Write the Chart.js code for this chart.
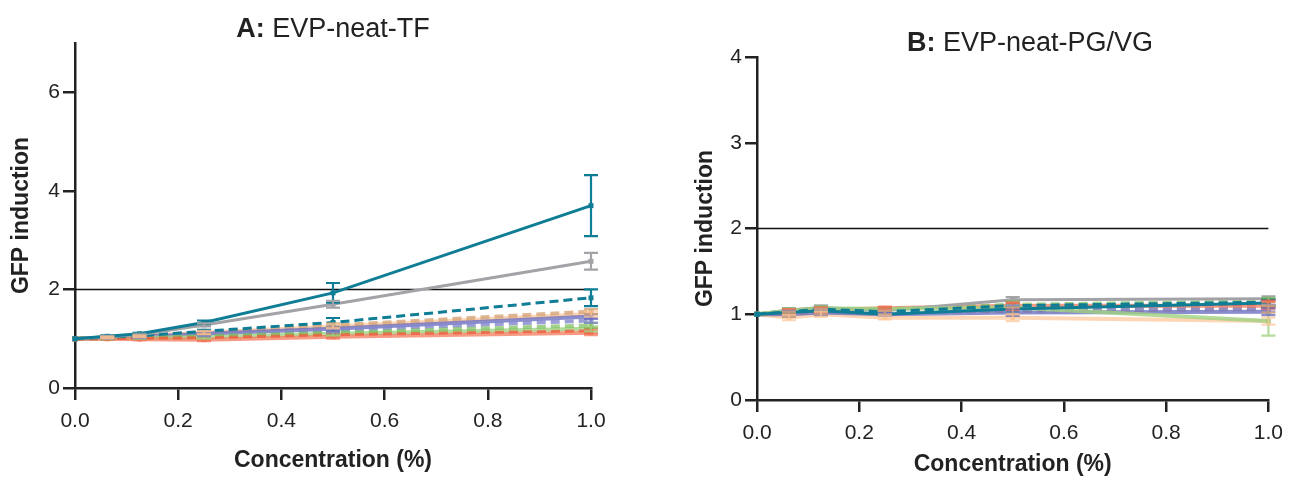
<!doctype html>
<html><head><meta charset="utf-8"><title>GFP induction</title>
<script src="https://cdn.jsdelivr.net/npm/chart.js@4/dist/chart.umd.min.js"></script>
<style>
  html, body { margin: 0; padding: 0; background: #fff; }
  body { width: 1292px; height: 484px; position: relative; overflow: hidden; font-family: 'Liberation Sans', Arial, sans-serif; }
  .wrap { position: absolute; top: 0; height: 484px; }
  .ttl { position: absolute; font-size: 27px; color: #222; white-space: nowrap; transform: translateX(-50%); }
</style>
</head>
<body>
<div class="wrap" style="left:0;width:640px"><canvas id="ca" width="640" height="484"></canvas></div>
<div class="wrap" style="left:650px;width:642px"><canvas id="cb" width="642" height="484"></canvas></div>
<div class="ttl" style="left:333px;top:13px"><b>A:</b> EVP-neat-TF</div>
<div class="ttl" style="left:1030px;top:27px"><b>B:</b> EVP-neat-PG/VG</div>
<script>
// 濃度 (%)
const conc = [0, 0.0625, 0.125, 0.25, 0.5, 1.0]
const xTicks = [0, 0.2, 0.4, 0.6, 0.8, 1.0]
const yTicksA = [0, 2, 4, 6]
const yTicksB = [0, 1, 2, 3, 4]
const threshold = 2

// パネル A: EVP-neat-TF  (値 / SD)
const tealSolidA = [1, 1.05, 1.1, 1.33, 1.93, 3.7]
const tealSolidErrA = [0, 0.02, 0.02, 0.04, 0.2, 0.62]
const graySolidA = [1, 1.04, 1.08, 1.28, 1.7, 2.57]
const graySolidErrA = [0, 0.02, 0.02, 0.03, 0.07, 0.17]
const tealDashA = [1, 1.03, 1.06, 1.15, 1.33, 1.83]
const tealDashErrA = [0, 0.02, 0.02, 0.03, 0.09, 0.17]
const peachSolidA = [1, 1.03, 1.05, 1.12, 1.25, 1.5]
const tanDashA = [1, 1.02, 1.05, 1.13, 1.27, 1.55]
const blueSolidA = [1, 1.02, 1.04, 1.1, 1.2, 1.45]
const blueDashA = [1, 1.02, 1.03, 1.08, 1.17, 1.37]
const greenDashA = [1, 1.01, 1.02, 1.05, 1.12, 1.27]
const greenSolidA = [1, 1.01, 1.02, 1.03, 1.1, 1.2]
const redDashA = [1, 1.0, 1.01, 1.02, 1.08, 1.16]
const redSolidA = [1, 1.0, 0.99, 0.98, 1.04, 1.12]
const smallErrA = [0, 0.02, 0.02, 0.03, 0.04, 0.05]

// パネル B: EVP-neat-PG/VG
const tealSolidB = [1, 1.02, 1.04, 1.0, 1.06, 1.13]
const graySolidB = [1, 1.05, 1.08, 1.04, 1.17, 1.18]
const grayErrB = [0, 0.02, 0.02, 0.02, 0.03, 0.03]
const tealDashB = [1, 1.03, 1.06, 1.03, 1.1, 1.14]
const peachSolidB = [1, 0.96, 1.0, 0.96, 0.96, 0.92]
const tanDashB = [1, 1.0, 1.03, 1.02, 1.04, 1.06]
const blueSolidB = [1, 1.0, 1.02, 1.0, 1.02, 1.03]
const blueDashB = [1, 1.01, 1.03, 1.01, 1.06, 1.07]
const greenSolidB = [1, 1.04, 1.07, 1.06, 1.08, 0.92]
const greenSolidErrB = [0, 0.03, 0.03, 0.02, 0.03, 0.17]
const greenDashB = [1, 1.04, 1.06, 1.06, 1.11, 1.15]
const redSolidB = [1, 1.03, 1.05, 1.07, 1.1, 1.1]
const redDashB = [1, 1.02, 1.04, 1.06, 1.09, 1.12]
const smallErrB = [0, 0.03, 0.03, 0.02, 0.04, 0.04]

// 線のスタイル（先頭ほど手前に描かれる）
const styles = {
  tealSolid: { color: '#0f7d95', width: 3, dash: [] },
  graySolid: { color: '#a3a3a7', width: 3, dash: [] },
  tealDash: { color: '#0f7d95', width: 3, dash: [9, 5] },
  peachSolid: { color: 'rgba(253,196,150,0.7)', width: 4, dash: [] },
  tanDash: { color: 'rgba(214,164,120,0.8)', width: 4, dash: [9, 5] },
  blueSolid: { color: 'rgba(100,104,190,0.75)', width: 4, dash: [] },
  blueDash: { color: 'rgba(130,134,205,0.8)', width: 4, dash: [9, 5] },
  greenDash: { color: 'rgba(120,190,90,0.7)', width: 4, dash: [9, 5] },
  greenSolid: { color: 'rgba(160,210,130,0.8)', width: 4, dash: [] },
  redDash: { color: 'rgba(240,90,60,0.75)', width: 3, dash: [9, 5] },
  redSolid: { color: 'rgba(242,120,90,0.75)', width: 4, dash: [] },
}

function ds(style, values, errs) {
  const s = styles[style]
  return {
    data: values.map((v, i) => ({ x: conc[i], y: v })),
    errs,
    borderColor: s.color,
    backgroundColor: s.color,
    borderWidth: s.width,
    borderDash: s.dash,
    pointStyle: 'rect',
    pointRadius: 3.5,
    pointBorderWidth: 0,
    tension: 0,
    clip: false,
  }
}

// エラーバーとしきい値線
const extras = {
  id: 'extras',
  beforeDatasetsDraw(chart) {
    const { ctx, chartArea: a } = chart
    const y = chart.scales.y.getPixelForValue(threshold)
    ctx.save()
    ctx.strokeStyle = '#111'
    ctx.lineWidth = 1.5
    ctx.beginPath()
    ctx.moveTo(a.left, y)
    ctx.lineTo(a.right, y)
    ctx.stroke()
    ctx.restore()
  },
  afterDatasetsDraw(chart) {
    const { ctx } = chart
    const xs = chart.scales.x, ys = chart.scales.y
    ctx.save()
    chart.data.datasets.forEach((d) => {
      if (!d.errs) return
      ctx.strokeStyle = d.borderColor
      ctx.lineWidth = 2.2
      d.data.forEach((p, i) => {
        const e = d.errs[i]
        if (!e) return
        const x = xs.getPixelForValue(p.x)
        const y1 = ys.getPixelForValue(p.y + e)
        const y2 = ys.getPixelForValue(p.y - e)
        ctx.beginPath()
        ctx.moveTo(x, y1); ctx.lineTo(x, y2)
        ctx.moveTo(x - 7, y1); ctx.lineTo(x + 7, y1)
        ctx.moveTo(x - 7, y2); ctx.lineTo(x + 7, y2)
        ctx.stroke()
      })
    })
    ctx.restore()
  },
}

const font = "'Liberation Sans', Arial, sans-serif"
function axisOpts(axisTicks, opts) {
  return {
    type: 'linear',
    min: opts.min,
    max: opts.max,
    afterBuildTicks: (s) => { s.ticks = axisTicks.map((v) => ({ value: v })) },
    afterFit: opts.fit,
    border: { display: true, color: '#222', width: 2.5 },
    grid: { drawOnChartArea: false, drawTicks: true, tickLength: 12, color: '#222', lineWidth: 2.5 },
    ticks: { color: '#222', font: { family: font, size: 21 }, padding: opts.pad, callback: opts.fmt },
    title: { display: true, text: opts.title, color: '#222', font: { family: font, size: 23, weight: 'bold' } },
  }
}

function makeChart(id, datasets, yTicks, yMax, layout) {
  new Chart(document.getElementById(id), {
    type: 'line',
    data: { datasets },
    options: {
      responsive: false,
      animation: false,
      events: [],
      layout: { padding: layout.padding },
      plugins: { legend: { display: false }, tooltip: { enabled: false } },
      scales: {
        x: axisOpts(xTicks, { min: 0, max: 1, pad: 9, title: 'Concentration (%)', fmt: (v) => Number(v).toFixed(1), fit: (s) => { s.height = layout.xh } }),
        y: axisOpts(yTicks, { min: 0, max: yMax, pad: 3, title: 'GFP induction', fmt: (v) => v, fit: (s) => { s.width = layout.yw } }),
      },
    },
    plugins: [extras],
  })
}

makeChart('ca', [
  ds('tealSolid', tealSolidA, tealSolidErrA),
  ds('graySolid', graySolidA, graySolidErrA),
  ds('tealDash', tealDashA, tealDashErrA),
  ds('redDash', redDashA, smallErrA),
  ds('redSolid', redSolidA, smallErrA),
  ds('greenDash', greenDashA, smallErrA),
  ds('greenSolid', greenSolidA, smallErrA),
  ds('blueDash', blueDashA, smallErrA),
  ds('blueSolid', blueSolidA, smallErrA),
  ds('tanDash', tanDashA, smallErrA),
  ds('peachSolid', peachSolidA, smallErrA),
], yTicksA, 7, { padding: { left: 4, top: 43, right: 49, bottom: 6 }, yw: 71, xh: 90 })

makeChart('cb', [
  ds('tealSolid', tealSolidB, smallErrB),
  ds('tealDash', tealDashB, smallErrB),
  ds('greenSolid', greenSolidB, greenSolidErrB),
  ds('graySolid', graySolidB, grayErrB),
  ds('greenDash', greenDashB, smallErrB),
  ds('redDash', redDashB, smallErrB),
  ds('redSolid', redSolidB, smallErrB),
  ds('blueDash', blueDashB, smallErrB),
  ds('blueSolid', blueSolidB, smallErrB),
  ds('tanDash', tanDashB, smallErrB),
  ds('peachSolid', peachSolidB, smallErrB),
], yTicksB, 4, { padding: { left: 38, top: 57, right: 20, bottom: 2 }, yw: 69, xh: 82 })
</script>
</body></html>
